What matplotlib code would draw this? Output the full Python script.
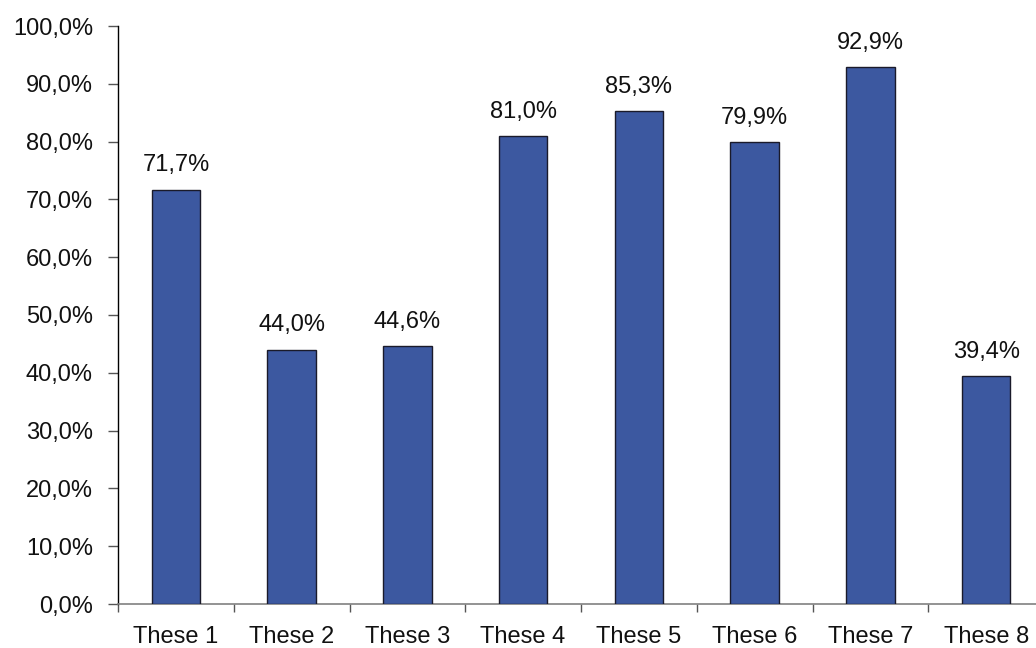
import matplotlib
matplotlib.use("Agg")
import matplotlib.pyplot as plt
from matplotlib.ticker import FuncFormatter, FixedLocator

categories = ["These 1", "These 2", "These 3", "These 4", "These 5", "These 6", "These 7", "These 8"]
values = [71.7, 44.0, 44.6, 81.0, 85.3, 79.9, 92.9, 39.4]
y_ticks = [0, 10, 20, 30, 40, 50, 60, 70, 80, 90, 100]

plt.rcParams['font.family'] = ['Liberation Sans', 'DejaVu Sans']
FS = 17

fig = plt.figure(figsize=(10.36, 6.48), dpi=100)
ax = fig.add_axes([118/1036, 1 - 604/648, 926/1036, 578/648])

x = list(range(len(categories)))
ax.bar(x, values, width=0.42, color="#3C58A0", edgecolor="#1a1a2a", linewidth=1.0, zorder=3)

for xi, v in zip(x, values):
    ax.annotate(f"{v:.1f}%".replace(".", ","), (xi, v), xytext=(0, 9.5), textcoords="offset points",
                ha="center", va="bottom", fontsize=FS, color="#111111")

ax.set_xlim(-0.5, len(categories) - 0.5)
ax.set_ylim(0, 100)
ax.set_yticks(y_ticks)
ax.yaxis.set_major_formatter(FuncFormatter(lambda v, p: f"{v:.1f}%".replace(".", ",")))
ax.set_xticks(x)
ax.set_xticklabels(categories)
ax.xaxis.set_minor_locator(FixedLocator([i - 0.5 for i in range(len(categories) + 1)]))

for s in ["top", "right"]:
    ax.spines[s].set_visible(False)
ax.spines["left"].set_color("#000000")
ax.spines["bottom"].set_color("#808080")
ax.spines["left"].set_linewidth(1.0)
ax.spines["bottom"].set_linewidth(1.2)

ax.tick_params(axis="y", direction="out", length=7, width=1, color="#555555", pad=11, labelsize=FS, labelcolor="#111111")
ax.tick_params(axis="x", which="major", length=0, pad=16, labelsize=FS, labelcolor="#111111")
ax.tick_params(axis="x", which="minor", direction="out", length=6, width=1, color="#555555")

fig.savefig("out.png", dpi=100)
